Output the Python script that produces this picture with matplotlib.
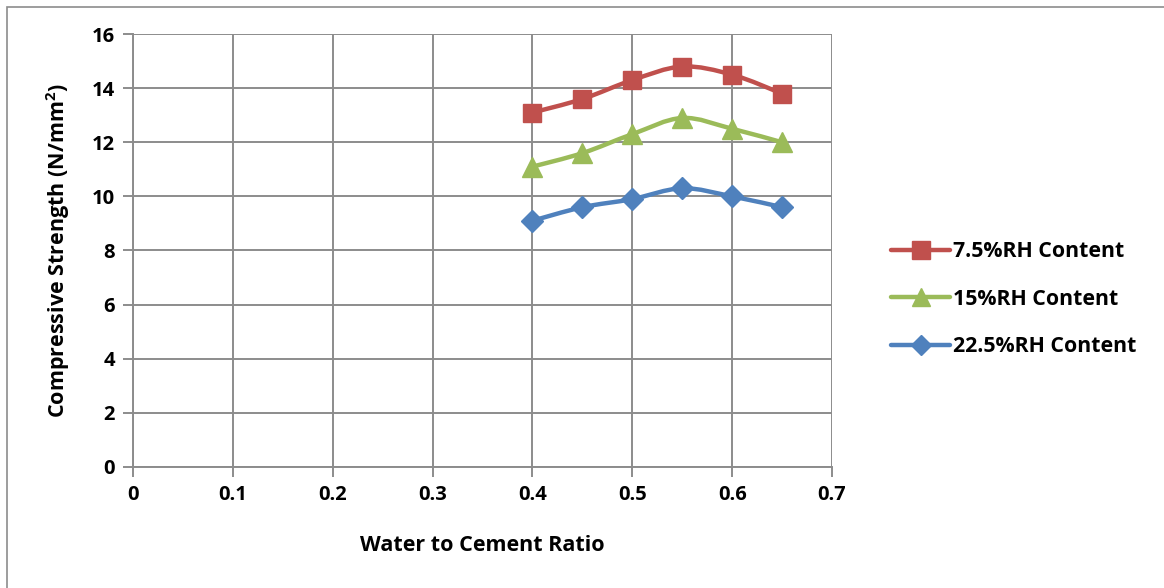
import matplotlib.pyplot as plt
import numpy as np
from matplotlib.path import Path
from matplotlib.patches import PathPatch, Rectangle
from matplotlib.lines import Line2D

plt.rcParams['font.family'] = ['Open Sans', 'DejaVu Sans']
plt.rcParams['font.weight'] = 'bold'
plt.rcParams['mathtext.fontset'] = 'custom'
plt.rcParams['mathtext.bf'] = 'Open Sans:bold'

# data
wc_ratio = [0.4, 0.45, 0.5, 0.55, 0.6, 0.65]
rh_7_5 = [13.1, 13.6, 14.3, 14.8, 14.5, 13.8]
rh_15 = [11.1, 11.6, 12.3, 12.9, 12.5, 12.0]
rh_22_5 = [9.1, 9.6, 9.9, 10.3, 10.0, 9.6]

labels = ['7.5%RH Content', '15%RH Content', '22.5%RH Content']
colors = ['#C0504D', '#9BBB59', '#4F81BD']
markers = ['s', '^', 'D']
msizes = [13.5, 14.5, 11.5]


def smooth_path(x, y, t=1/6):
    # Excel-like smoothed line as cubic bezier segments through the points
    x = np.asarray(x, float)
    y = np.asarray(y, float)
    verts = [(x[0], y[0])]
    codes = [Path.MOVETO]
    n = len(x)
    for i in range(n - 1):
        x0, y0 = (x[i - 1], y[i - 1]) if i > 0 else (x[i], y[i])
        x3, y3 = (x[i + 2], y[i + 2]) if i + 2 < n else (x[i + 1], y[i + 1])
        c1 = (x[i] + (x[i + 1] - x0) * t, y[i] + (y[i + 1] - y0) * t)
        c2 = (x[i + 1] - (x3 - x[i]) * t, y[i + 1] - (y3 - y[i]) * t)
        verts += [c1, c2, (x[i + 1], y[i + 1])]
        codes += [Path.CURVE4] * 3
    return Path(verts, codes)


fig = plt.figure(figsize=(11.64, 5.88), dpi=100)
ax = fig.add_axes([0.1143, 0.206, 0.6005, 0.736])

handles = []
for vals, lab, c, m, ms in zip([rh_7_5, rh_15, rh_22_5], labels, colors, markers, msizes):
    ax.add_patch(PathPatch(smooth_path(wc_ratio, vals), facecolor='none',
                           edgecolor=c, lw=3.2, zorder=3, capstyle='round'))
    ax.plot(wc_ratio, vals, ls='none', marker=m, ms=ms, color=c, zorder=4)
    handles.append(Line2D([], [], color=c, lw=3.2, marker=m, ms=ms - 1,
                          solid_capstyle='round'))

ax.set_xlim(0, 0.7)
ax.set_ylim(0, 16)
ax.set_xticks(np.arange(0, 0.71, 0.1))
ax.set_xticklabels(['0', '0.1', '0.2', '0.3', '0.4', '0.5', '0.6', '0.7'],
                   fontweight='bold')
ax.set_yticks(range(0, 17, 2))
ax.set_yticklabels([str(v) for v in range(0, 17, 2)], fontweight='bold')
ax.grid(True, color='#8C8C8C', lw=1.4)
ax.set_axisbelow(True)
for s in ['top', 'right']:
    ax.spines[s].set_visible(False)
for s in ['left', 'bottom']:
    ax.spines[s].set_color('#8C8C8C')
    ax.spines[s].set_linewidth(1.4)
ax.tick_params(colors='#8C8C8C', labelcolor='black', length=7, width=1.4,
               labelsize=14.5, pad=6)

ax.set_xlabel('Water to Cement Ratio', fontsize=15.5, fontweight='bold', labelpad=22)
ax.set_ylabel('Compressive Strength (N/mm$^\\mathbf{2}$)', fontsize=15.5,
              fontweight='bold', labelpad=14)

fig.legend(handles, labels, loc='center left', bbox_to_anchor=(0.749, 0.491),
           frameon=False, labelspacing=1.25, handlelength=2.8,
           handletextpad=0.1, prop={'weight': 'bold', 'size': 15.3})

fig.patches.append(Rectangle((0.006, -0.01), 1.0, 0.998, transform=fig.transFigure,
                             fill=False, edgecolor='#8C8C8C', lw=1.2))

fig.savefig('out.png', dpi=100)
